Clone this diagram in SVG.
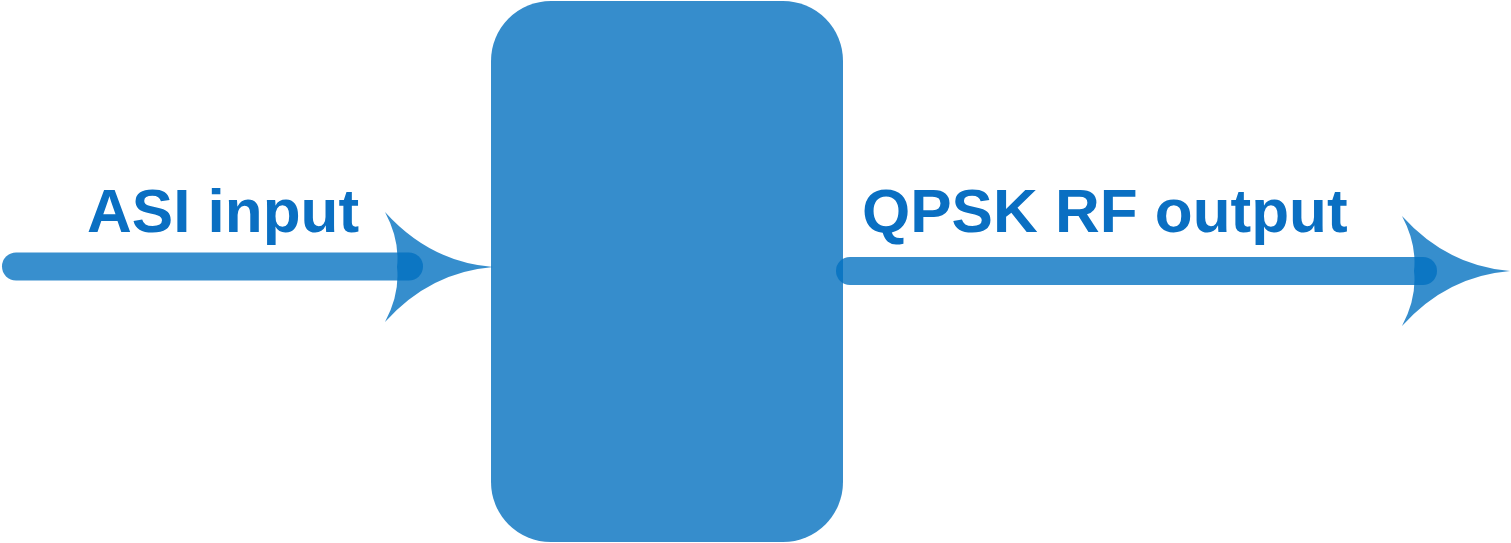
<svg xmlns="http://www.w3.org/2000/svg" width="1511" height="543" viewBox="0 0 1511 543">
  <style>
    .lbl { font-family: "Liberation Sans", Arial, sans-serif; font-weight: bold; font-size: 62px; fill: #0a6fc2; }
    .box { fill: #368dcc; }
    .head { fill: #0070c0; fill-opacity: 0.79; }
    .shaft { stroke: #0070c0; stroke-opacity: 0.78; stroke-width: 28; stroke-linecap: round; fill: none; }
  </style>
  <defs>
    <path id="arrowhead" d="M493,267 Q430,262 385,212 Q400,240 397,267 Q400,294 385,322 Q430,272 493,267 Z"/>
  </defs>
  <rect width="1511" height="543" fill="#ffffff"/>
  <g id="block">
    <rect class="box" x="491" y="1" width="352" height="541" rx="60" ry="60"/>
  </g>
  <g id="asi-input">
    <text class="lbl" x="87" y="232">ASI input</text>
  </g>
  <g id="qpsk-output">
    <text class="lbl" x="862" y="232">QPSK RF output</text>
  </g>
  <g id="connectors">
    <use class="head" href="#arrowhead"/>
    <line class="shaft" x1="16" y1="266.5" x2="409" y2="266.5"/>
    <use class="head" href="#arrowhead" transform="translate(1017,4)"/>
    <line class="shaft" x1="850" y1="271" x2="1423" y2="271"/>
  </g>
</svg>
